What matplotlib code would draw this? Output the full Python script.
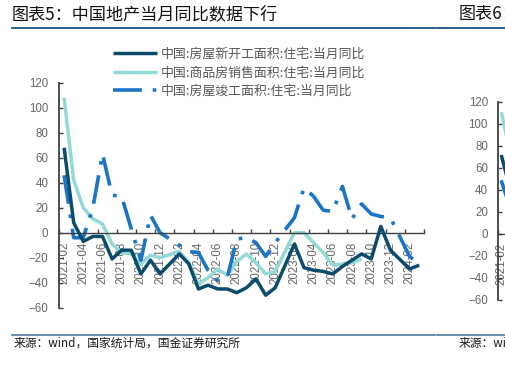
import numpy as np
import matplotlib
matplotlib.use("Agg")
import matplotlib.pyplot as plt
from matplotlib.lines import Line2D
from matplotlib.font_manager import FontProperties

plt.rcParams['font.family'] = ['Liberation Sans', 'Noto Sans CJK SC', 'DejaVu Sans']

nan = np.nan
months = ['2021-02', '2021-03', '2021-04', '2021-05', '2021-06', '2021-07', '2021-08',
          '2021-09', '2021-10', '2021-11', '2021-12', '2022-01', '2022-02', '2022-03',
          '2022-04', '2022-05', '2022-06', '2022-07', '2022-08', '2022-09', '2022-10',
          '2022-11', '2022-12', '2023-01', '2023-02', '2023-03', '2023-04', '2023-05',
          '2023-06', '2023-07', '2023-08', '2023-09', '2023-10', '2023-11', '2023-12',
          '2024-01', '2024-02', '2024-03']
new_starts = [68, 8, -7, -3, -3, -21, -14, -14, -33, -22, -33, nan, -17, -25, -45, -42, -45,
              -45, -48, -44, -37, -50, -44, nan, -9, -28, -30, -31, -33, -27, -22, -17, -21,
              5, -14, nan, -29, -26]
sales = [108, 42, 20, 11, 7, -9, -16, -17, -25, -18, -20, nan, -15, -24, -41, -36, -29, -34,
         -23, -17, -24, -33, -31, nan, 0, 0, -8, -16, -26, -25, -24, -21, nan, nan, nan, nan,
         nan, nan]
completions = [46, -4, -4, 20, 63, 30, 29, 3, -22, 14, 0, nan, -10, -15, -16, -30, -38, -36,
               -5, -4, -8, -19, -8, nan, 12, 36, 29, 18, 17, 37, 11, 23, 15, 13, 12, nan,
               -19, -25]
labels = ['中国:房屋新开工面积:住宅:当月同比', '中国:商品房销售面积:住宅:当月同比',
          '中国:房屋竣工面积:住宅:当月同比']
yticks = [-60, -40, -20, 0, 20, 40, 60, 80, 100, 120]

# partial next chart (only its first points are visible)
next_cats = ['2021-02', '2021-03']
next_new_starts = [70, 46]
next_sales = [109, 80]
next_completions = [47, 28]

c_dark = '#0b4b6c'
c_teal = '#93d9d6'
c_blue = '#1b74c5'
grey = '#666666'
axc = '#404040'

W, H = 505, 371
fig = plt.figure(figsize=(W / 100, H / 100), dpi=100)


def fx(x):
    return x / W


def fy(y):
    return 1 - y / H


def style_axis(a, n, ypad):
    a.set_ylim(-60, 120)
    a.set_yticks(yticks)
    a.spines['top'].set_visible(False)
    a.spines['right'].set_visible(False)
    a.spines['bottom'].set_position(('data', 0))
    a.spines['bottom'].set_color(axc)
    a.spines['left'].set_color(axc)
    a.spines['bottom'].set_linewidth(1.0)
    a.spines['left'].set_linewidth(1.3)
    a.tick_params(axis='y', direction='in', length=3, width=1, colors=axc,
                  labelcolor=grey, labelsize=8.3, pad=ypad)
    a.set_xticks(np.arange(-0.5, n + 0.5, 2))
    a.set_xticklabels([])
    a.tick_params(axis='x', which='major', direction='in', length=3, width=1, colors=axc)
    a.patch.set_alpha(0)


def plot_series(a, ys, **kw):
    ys = np.asarray(ys, dtype=float)
    xs = np.arange(len(ys))
    m = np.isfinite(ys)
    return a.plot(xs[m], ys[m], **kw)[0]


# ---------------- main chart ----------------
n = len(months)
ax = fig.add_axes([fx(59.3), 63.3 / H, 364.7 / W, 225 / H])
ax.set_xlim(-0.5, n - 0.5)
style_axis(ax, n, 7.9)
ax.set_xticks(np.arange(0, n, 2), minor=True)
ax.set_xticklabels(months[::2], minor=True, rotation=90, color=grey, fontsize=8.3)
ax.tick_params(axis='x', which='minor', length=0, pad=6.3)

l1 = plot_series(ax, new_starts, color=c_dark, lw=2.5, solid_capstyle='butt', zorder=3)
l2 = plot_series(ax, sales, color=c_teal, lw=2.5, solid_capstyle='butt', zorder=2)
l3 = plot_series(ax, completions, color=c_blue, lw=2.6, linestyle=(0, (8, 3, 1, 3)), zorder=2)

ax.legend([l1, l2, l3], labels, loc='upper left', bbox_to_anchor=(fx(113), fy(48)),
          bbox_transform=fig.transFigure, frameon=False, borderpad=0, borderaxespad=0,
          handlelength=3.4, handletextpad=0.3, labelspacing=0.42, labelcolor='#595959',
          prop=FontProperties(family=['Noto Sans CJK SC'], size=9.3))

# ---------------- next chart (cut off) ----------------
ax2 = fig.add_axes([fx(498.3), (H - 299.7) / H, 1010 / W, 198 / H])
n2 = 148
ax2.set_xlim(-0.5, n2 - 0.5)
style_axis(ax2, n2, 7.4)
ax2.set_xticks([0], minor=True)
ax2.set_xticklabels(next_cats[:1], minor=True, rotation=90, color=grey, fontsize=8.3)
ax2.tick_params(axis='x', which='minor', length=0, pad=6.3)
plot_series(ax2, next_new_starts, color=c_dark, lw=2.5, zorder=3)
plot_series(ax2, next_sales, color=c_teal, lw=2.5, zorder=2)
plot_series(ax2, next_completions, color=c_blue, lw=2.6, zorder=2)

# ---------------- page decorations ----------------
title_font = dict(family=['Noto Sans CJK SC'], fontsize=12.3, fontweight='normal',
                  color='#111111')
fig.text(fx(12), fy(14), '图表5：中国地产当月同比数据下行', va='center', ha='left', **title_font)
fig.text(fx(459), fy(14), '图表6：', va='center', ha='left', **title_font)

rule_c = '#1f4e79'
for (x0, x1) in [(12, 435), (437, 505)]:
    fig.add_artist(Line2D([fx(x0), fx(x1)], [fy(28), fy(28)], color=rule_c, lw=1.3))
    fig.add_artist(Line2D([fx(x0), fx(x1)], [fy(335), fy(335)], color='#3d6f94', lw=1.1))

src_font = dict(family=['Noto Sans CJK SC'], fontsize=8.5, color='#1a1a1a')
fig.text(fx(14), fy(343), '来源：wind，国家统计局，国金证券研究所', va='center', ha='left', **src_font)
fig.text(fx(459), fy(343), '来源：wind，国家统计局，国金证券研究所', va='center', ha='left', **src_font)

fig.savefig('out.png', dpi=100)
